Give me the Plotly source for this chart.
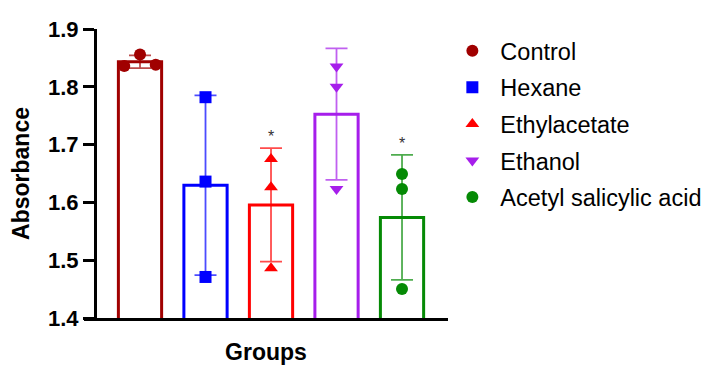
import numpy as np
import plotly.graph_objects as go

groups = ["Control", "Hexane", "Ethylacetate", "Ethanol", "Acetyl salicylic acid"]
control = [1.836, 1.856, 1.838]
hexane = [1.782, 1.636, 1.471]
ethylacetate = [1.675, 1.626, 1.486]
ethanol = [1.835, 1.800, 1.623]
asa = [1.649, 1.623, 1.450]
values = [control, hexane, ethylacetate, ethanol, asa]
significant = [False, False, True, False, True]
y_ticks = [1.4, 1.5, 1.6, 1.7, 1.8, 1.9]

colors = ["#A00000", "#0000FF", "#FF0000", "#A61EEB", "#058A05"]
symbols = ["circle", "square", "triangle-up", "triangle-down", "circle"]
jitter = [[-0.24, 0.0, 0.24], [0, 0, 0], [0, 0, 0], [0, 0, 0], [0, 0, 0]]

means = [float(np.mean(v)) for v in values]
sds = [float(np.std(v, ddof=1)) for v in values]

fig = go.Figure()
for i, g in enumerate(groups):
    fig.add_trace(go.Bar(
        x=[i], y=[means[i]], width=0.66,
        marker=dict(color="white", line=dict(color=colors[i], width=3)),
        showlegend=False, hoverinfo="skip"))
for i, g in enumerate(groups):
    fig.add_trace(go.Scatter(
        x=[i], y=[means[i]], mode="markers",
        marker=dict(size=1, color="rgba(0,0,0,0)"),
        error_y=dict(type="data", array=[sds[i]], visible=True,
                     color=colors[i], thickness=1.8, width=11),
        opacity=0.7,
        showlegend=False, hoverinfo="skip"))
for i, g in enumerate(groups):
    fig.add_trace(go.Scatter(
        x=[i + j for j in jitter[i]], y=values[i], mode="markers", name=g,
        legendgroup=g,
        marker=dict(size=12, color=colors[i], symbol=symbols[i])))

for i, s in enumerate(significant):
    if s:
        fig.add_annotation(x=i, y=means[i] + sds[i], text="*", showarrow=False,
                           yanchor="bottom", yshift=1,
                           font=dict(size=16, color="#333333", family="Arial"))

fig.update_layout(
    width=716, height=375,
    margin=dict(l=76, r=276, t=21, b=65, autoexpand=False),
    plot_bgcolor="white", paper_bgcolor="white",
    font=dict(family="Arial", color="black"),
    barmode="overlay",
    legend=dict(x=0.99, y=1.0, xanchor="left", yanchor="top",
                font=dict(size=23.5, family="Arial", color="black"),
                tracegroupgap=3, itemwidth=46),
    xaxis=dict(range=[-0.855, 4.702], showticklabels=False, ticks="",
               showgrid=False, zeroline=False, showline=True,
               linecolor="black", linewidth=3, automargin=False,
               title=dict(text="<b>Groups</b>", font=dict(size=23, family="Arial"),
                          standoff=24)),
    yaxis=dict(range=[1.4, 1.9], tickvals=y_ticks,
               ticktext=["<b>%.1f</b>" % t for t in y_ticks],
               anchor="free", position=11 / 364, automargin=False,
               showgrid=False, zeroline=False, showline=True,
               linecolor="black", linewidth=3, ticks="outside",
               ticklen=11, tickwidth=3, tickcolor="black",
               tickfont=dict(size=22, family="Arial"),
               title=dict(text="<b>Absorbance</b>", font=dict(size=23, family="Arial"),
                          standoff=16)),
)

fig.write_html("out.html")
